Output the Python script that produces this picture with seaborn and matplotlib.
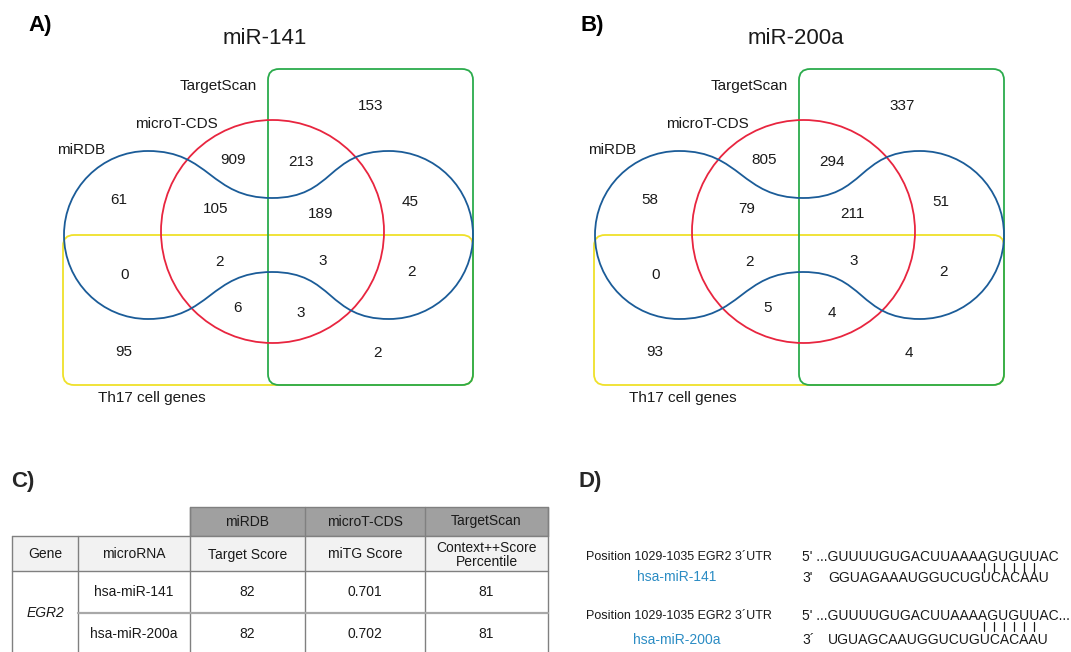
import matplotlib
matplotlib.use("Agg")
import matplotlib.pyplot as plt
from matplotlib.path import Path
from matplotlib.patches import PathPatch, Circle, FancyBboxPatch, Rectangle
import seaborn as sns

sns.set_theme(style="white")
plt.rcParams["font.family"] = ["Liberation Sans", "DejaVu Sans"]

# ---------------------------------------------------------------- data
mirnas = ["miR-141", "miR-200a"]
set_names = ["miRDB", "microT-CDS", "TargetScan", "Th17 cell genes"]

# Venn region counts (order: TS, mT, mT&TS, DB, DB&mT, DB&mT&TS, DB&TS,
# DB&Th, DB&mT&Th, all four, DB&TS&Th, mT&Th, mT&TS&Th, Th, TS&Th)
counts_mir141 = [153, 909, 213, 61, 105, 189, 45, 0, 2, 3, 2, 6, 3, 95, 2]
counts_mir200a = [337, 805, 294, 58, 79, 211, 51, 0, 2, 3, 2, 5, 4, 93, 4]

table_tools = ["miRDB", "microT-CDS", "TargetScan"]
table_header = ["Gene", "microRNA", "Target Score", "miTG Score",
                "Context++Score\nPercentile"]
table_gene = "EGR2"
table_mirnas = ["hsa-miR-141", "hsa-miR-200a"]
mirdb_scores = ["82", "82"]
microt_scores = ["0.701", "0.702"]
targetscan_pct = ["81", "81"]

site_label = "Position 1029-1035 EGR2 3\u00b4UTR"
utr_seqs = ["GUUUUGUGACUUAAAAGUGUUAC", "GUUUUGUGACUUAAAAGUGUUAC..."]
mir_seqs = ["GGUAGAAAUGGUCUGUCACAAU", "UGUAGCAAUGGUCUGUCACAAU"]
mir_prime = ["3'", "3\u00b4"]
n_pairs = 6

# ---------------------------------------------------------------- style
BLUE = "#1b5c98"
RED = "#e8253f"
GREEN = "#2bab4c"
YELLOW = "#efe12a"
MIR_BLUE = "#2b8cc4"
TXT = "#1a1a1a"
LW = 1.3

# region label anchors, relative to the Venn panel origin
region_xy = [(371, 106), (233, 160), (301, 162), (119, 200), (216, 209),
             (321, 214), (410, 202), (125, 275), (219, 262), (323, 261),
             (412, 272), (237, 308), (301, 313), (124, 352), (378, 353)]

fig = plt.figure(figsize=(10.71, 6.52), dpi=100)
ax = fig.add_axes([0, 0, 1, 1])
ax.set_xlim(0, 1071)
ax.set_ylim(652, 0)
ax.axis("off")


def peanut_path(dx, lc=148.0, rc=389.0, cy=235.0, r=84.0, wx=272.0, wh=37.0, k=62.0):
    kap = 0.5523 * r
    top, bot = cy - r, cy + r
    verts = [
        (lc, top),
        (lc + k, top), (wx - k, cy - wh), (wx, cy - wh),
        (wx + k, cy - wh), (rc - k, top), (rc, top),
        (rc + kap, top), (rc + r, cy - kap), (rc + r, cy),
        (rc + r, cy + kap), (rc + kap, bot), (rc, bot),
        (rc - k, bot), (wx + k, cy + wh), (wx, cy + wh),
        (wx - k, cy + wh), (lc + k, bot), (lc, bot),
        (lc - kap, bot), (lc - r, cy + kap), (lc - r, cy),
        (lc - r, cy - kap), (lc - kap, top), (lc, top),
        (lc, top),
    ]
    verts = [(x + dx, y) for x, y in verts]
    codes = [Path.MOVETO] + [Path.CURVE4] * 24 + [Path.CLOSEPOLY]
    return Path(verts, codes)


def draw_venn(dx, title, panel, counts):
    ax.text(40 + dx * 1.04, 25, panel, fontsize=16, fontweight="bold",
            ha="center", va="center", color="black")
    ax.text(265 + dx, 39, title, fontsize=16, ha="center", va="center", color=TXT)
    ax.add_patch(FancyBboxPatch((63 + dx, 235), 410, 150,
                                boxstyle="round,pad=0,rounding_size=11",
                                fill=False, ec=YELLOW, lw=LW))
    ax.add_patch(FancyBboxPatch((268 + dx, 69), 205, 316,
                                boxstyle="round,pad=0,rounding_size=11",
                                fill=False, ec=GREEN, lw=LW))
    ax.add_patch(Circle((272.5 + dx, 231.5), 111.5, fill=False, ec=RED, lw=LW))
    ax.add_patch(PathPatch(peanut_path(dx), fill=False, ec=BLUE, lw=LW))
    ax.text(218 + dx, 86, set_names[2], fontsize=11, ha="center", va="center", color=TXT)
    ax.text(176 + dx, 124, set_names[1], fontsize=11, ha="center", va="center", color=TXT)
    ax.text(81 + dx, 150, set_names[0], fontsize=11, ha="center", va="center", color=TXT)
    ax.text(152 + dx, 398, set_names[3], fontsize=11, ha="center", va="center", color=TXT)
    for (x, y), c in zip(region_xy, counts):
        ax.text(x + dx, y, str(c), fontsize=11, ha="center", va="center", color=TXT)


draw_venn(0, mirnas[0], "A)", counts_mir141)
draw_venn(531, mirnas[1], "B)", counts_mir200a)

# ---------------------------------------------------------------- panel C
ax.text(23, 482, "C)", fontsize=16, fontweight="bold", ha="center", va="center")
col_edges = [12, 78, 190, 305, 425, 548]
row_edges = [536, 571, 613, 655]
head_top = 507
LINE = "#808080"

ax.add_patch(Rectangle((col_edges[2], head_top), col_edges[-1] - col_edges[2],
                       row_edges[0] - head_top, fc="#a0a0a0", ec=LINE, lw=1))
ax.add_patch(Rectangle((col_edges[0], row_edges[0]), col_edges[-1] - col_edges[0],
                       row_edges[1] - row_edges[0], fc="#f2f2f2", ec="none"))
for x in col_edges:
    top = head_top if x >= col_edges[2] else row_edges[0]
    ax.plot([x, x], [top, 660], color=LINE, lw=1)
ax.plot([col_edges[0], col_edges[-1]], [row_edges[0]] * 2, color=LINE, lw=1)
ax.plot([col_edges[0], col_edges[-1]], [row_edges[1]] * 2, color=LINE, lw=1)
ax.plot([col_edges[1], col_edges[-1]], [row_edges[2]] * 2, color="#a8a8a8", lw=1.6)

centers = [(a + b) / 2 for a, b in zip(col_edges[:-1], col_edges[1:])]
for name, cx in zip(table_tools, centers[2:]):
    ax.text(cx, (head_top + row_edges[0]) / 2, name, fontsize=10,
            ha="center", va="center", color=TXT)
for name, cx in zip(table_header, centers):
    ax.text(cx, (row_edges[0] + row_edges[1]) / 2 + 1, name, fontsize=10,
            ha="center", va="center", color=TXT, linespacing=1.0)
ax.text(centers[0], row_edges[2], table_gene, fontsize=10, style="italic",
        ha="center", va="center", color=TXT)
for i in range(len(table_mirnas)):
    y = (row_edges[i + 1] + row_edges[i + 2]) / 2
    row = [table_mirnas[i], mirdb_scores[i], microt_scores[i], targetscan_pct[i]]
    for val, cx in zip(row, centers[1:]):
        ax.text(cx, y, val, fontsize=10, ha="center", va="center", color=TXT)

# ---------------------------------------------------------------- panel D
ax.text(590, 482, "D)", fontsize=16, fontweight="bold", ha="center", va="center")
block_y = [557, 616]
mir_y = [578, 640]
for i in range(2):
    ax.text(586, block_y[i], site_label, fontsize=9, ha="left", va="center", color=TXT)
    ax.text(677, mir_y[i] - (1 if i == 0 else 0), table_mirnas[i], fontsize=10,
            ha="center", va="center", color=MIR_BLUE)
    ax.text(802, block_y[i], "5' ..." + utr_seqs[i], fontsize=10,
            ha="left", va="center", color=TXT)
    ax.text(802, mir_y[i], mir_prime[i], fontsize=10, ha="left", va="center", color=TXT)
    ax.text(828, mir_y[i], mir_seqs[i], fontsize=10, ha="left", va="center", color=TXT)
    for j in range(n_pairs):
        x = 984 + 10 * j
        ax.plot([x, x], [block_y[i] + 6, block_y[i] + 15], color=TXT, lw=0.9)

fig.savefig("out.png", dpi=100, facecolor="white")
